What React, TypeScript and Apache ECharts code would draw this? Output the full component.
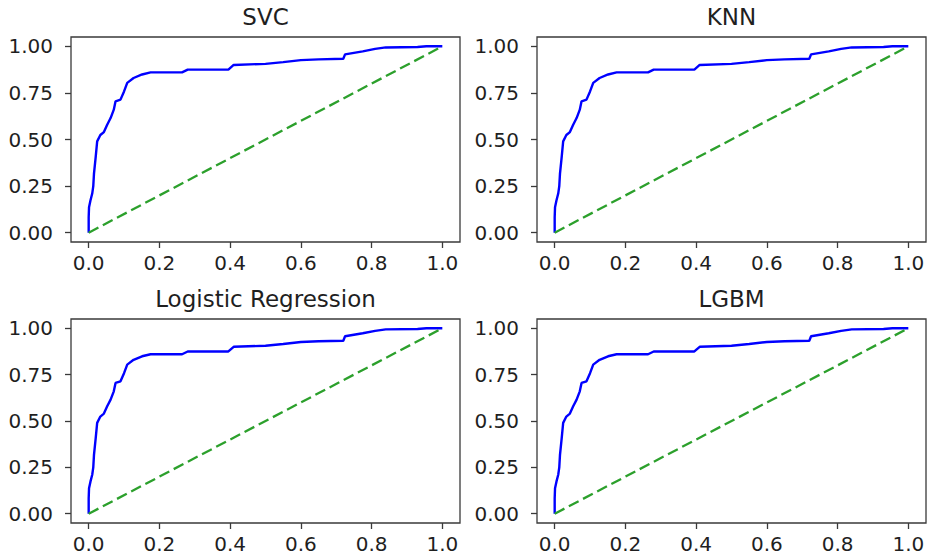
import React, { useEffect, useRef } from "react";
import * as echarts from "echarts";

const MODEL_TITLES = ["SVC", "KNN", "Logistic Regression", "LGBM"];

const ROC_FPR = [
  0, 0, 0.001, 0.005, 0.01, 0.013, 0.015, 0.02, 0.024, 0.033,
  0.043, 0.052, 0.062, 0.071, 0.076, 0.09, 0.1, 0.109, 0.127, 0.151,
  0.175, 0.264, 0.28, 0.395, 0.41, 0.5, 0.55, 0.6, 0.65, 0.72,
  0.725, 0.775, 0.81, 0.84, 0.93, 0.955, 1.0,
];
const ROC_TPR = [
  0, 0.083, 0.137, 0.173, 0.21, 0.25, 0.317, 0.41, 0.49, 0.524,
  0.54, 0.578, 0.615, 0.66, 0.705, 0.714, 0.758, 0.804, 0.83, 0.849,
  0.86, 0.86, 0.875, 0.875, 0.9, 0.906, 0.915, 0.926, 0.93, 0.933,
  0.957, 0.973, 0.986, 0.994, 0.996, 1.0, 1.0,
];

const DIAG_X = [0, 1];
const DIAG_Y = [0, 1];

const X_TICKS = [0, 0.2, 0.4, 0.6, 0.8, 1.0];
const Y_TICKS = [0, 0.25, 0.5, 0.75, 1.0];

const GRIDS = [
  { left: 71, top: 37, width: 389, height: 205 },
  { left: 537, top: 37, width: 389, height: 205 },
  { left: 71, top: 319, width: 389, height: 204 },
  { left: 537, top: 319, width: 389, height: 204 },
];

const FONT = "DejaVu Sans";
const TEXT_COLOR = "#1f1f1f";
const FRAME_COLOR = "#3a3a3a";

export default function App() {
  const ref = useRef<HTMLDivElement>(null);

  useEffect(() => {
    document.body.style.margin = "0";
    if (!ref.current) return;
    const chart = echarts.init(ref.current, null, { renderer: "svg" });

    const rocData = ROC_FPR.map((x, i) => [x, ROC_TPR[i]]);
    const diagData = DIAG_X.map((x, i) => [x, DIAG_Y[i]]);

    const grid = GRIDS.map((g) => ({
      ...g,
      show: true,
      borderColor: FRAME_COLOR,
      borderWidth: 1.3,
      backgroundColor: "#fff",
    }));

    const xAxis = GRIDS.map((_, i) => ({
      type: "value",
      gridIndex: i,
      position: "bottom",
      min: -0.05,
      max: 1.05,
      splitLine: { show: false },
      axisLine: { show: false, onZero: false },
      axisTick: {
        show: true,
        inside: false,
        customValues: X_TICKS,
        length: 6,
        lineStyle: { color: FRAME_COLOR, width: 1.3 },
      },
      axisLabel: {
        customValues: X_TICKS,
        formatter: (v: number) => v.toFixed(1),
        fontFamily: FONT,
        fontSize: 20,
        color: TEXT_COLOR,
        margin: 11,
      },
    }));

    const yAxis = GRIDS.map((_, i) => ({
      type: "value",
      gridIndex: i,
      position: "left",
      min: -0.05,
      max: 1.05,
      splitLine: { show: false },
      axisLine: { show: false, onZero: false },
      axisTick: {
        show: true,
        inside: false,
        customValues: Y_TICKS,
        length: 6,
        lineStyle: { color: FRAME_COLOR, width: 1.3 },
      },
      axisLabel: {
        customValues: Y_TICKS,
        formatter: (v: number) => v.toFixed(2),
        fontFamily: FONT,
        fontSize: 20,
        color: TEXT_COLOR,
        margin: 18,
      },
    }));

    const series: any[] = [];
    GRIDS.forEach((_, i) => {
      series.push({
        type: "line",
        xAxisIndex: i,
        yAxisIndex: i,
        data: rocData,
        showSymbol: false,
        symbol: "none",
        lineStyle: { color: "#0000ff", width: 2.4 },
        z: 2,
      });
      series.push({
        type: "line",
        xAxisIndex: i,
        yAxisIndex: i,
        data: diagData,
        showSymbol: false,
        symbol: "none",
        lineStyle: { color: "#2ca02c", width: 2.3, type: [11, 5] },
        z: 3,
      });
    });

    const graphic = GRIDS.map((g, i) => ({
      type: "text",
      x: g.left + g.width / 2,
      y: g.top - 20,
      style: {
        text: MODEL_TITLES[i],
        fontFamily: FONT,
        fontSize: 23,
        fill: TEXT_COLOR,
        align: "center",
        verticalAlign: "middle",
      },
    }));

    chart.setOption({
      animation: false,
      backgroundColor: "#fff",
      grid,
      xAxis,
      yAxis,
      series,
      graphic,
    });

    return () => chart.dispose();
  }, []);

  return (
    <div
      ref={ref}
      style={{ width: 935, height: 559, position: "absolute", left: 0, top: 0 }}
    />
  );
}
